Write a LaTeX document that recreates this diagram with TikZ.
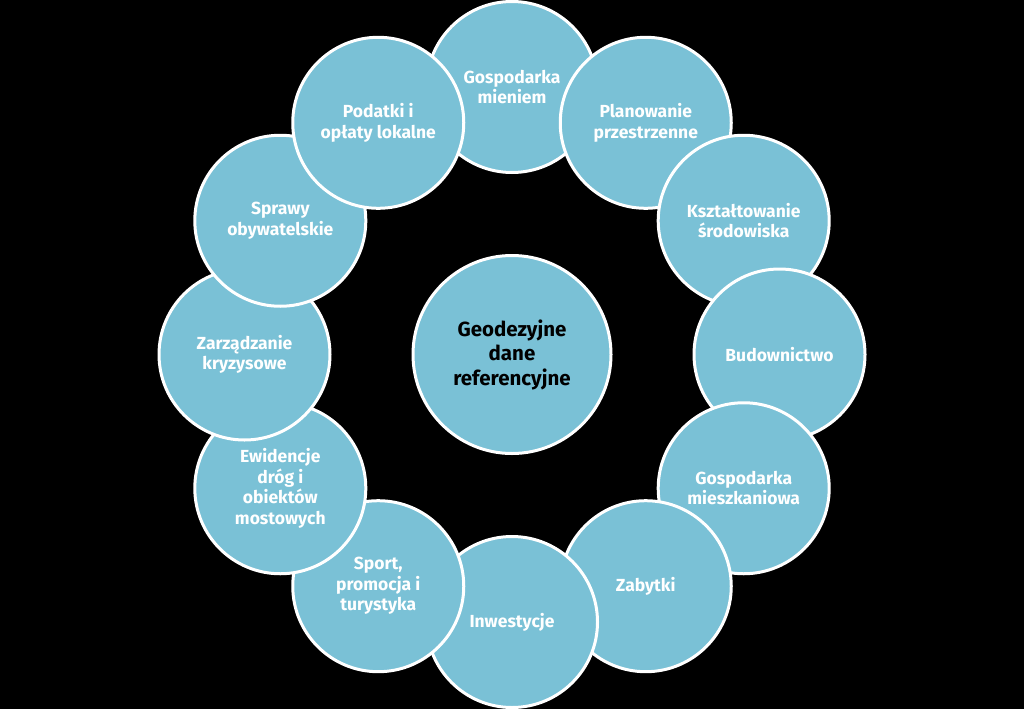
\documentclass[tikz,border=0pt]{standalone}
\usepackage{fontspec}
\setmainfont{Fira Sans}
\definecolor{circfill}{RGB}{122,193,214}
\begin{document}
\begin{tikzpicture}[x=1pt,y=-1pt,
  outer/.style={circle, draw=white, line width=3pt, fill=circfill, minimum size=171pt, inner sep=0pt, align=center, text=white, font=\bfseries\fontsize{17.5}{20.5}\selectfont},
  hub/.style={circle, draw=white, line width=3pt, fill=circfill, minimum size=198pt, inner sep=0pt, align=center, text=black, font=\bfseries\fontsize{20.5}{24.5}\selectfont}]
\fill[black] (0,0) rectangle (1024,709);
\path[use as bounding box] (0,0) rectangle (1024,709);
\node[hub] (hub) at (512,354.5) {Geodezyjne\\dane\\referencyjne};
\node[outer] (n1)  at (512,87)        {Gospodarka\\mieniem};
\node[outer] (n2)  at (645.75,122.8)  {Planowanie\\przestrzenne};
\node[outer] (n3)  at (743.7,220.75)  {Kształtowanie\\środowiska};
\node[outer] (n4)  at (779.5,354.5)   {Budownictwo};
\node[outer] (n5)  at (743.7,488.25)  {Gospodarka\\mieszkaniowa};
\node[outer] (n6)  at (645.75,586.2)  {Zabytki};
\node[outer] (n7)  at (512,622)       {Inwestycje};
\node[outer] (n8)  at (378.25,586.2)  {Sport,\\promocja i\\turystyka};
\node[outer] (n9)  at (280.3,488.25)  {Ewidencje\\dróg i\\obiektów\\mostowych};
\node[outer] (n10) at (244.5,354.5)   {Zarządzanie\\kryzysowe};
\node[outer] (n11) at (280.3,220.75)  {Sprawy\\obywatelskie};
\node[outer] (n12) at (378.25,122.8)  {Podatki i\\opłaty lokalne};
\end{tikzpicture}
\end{document}
